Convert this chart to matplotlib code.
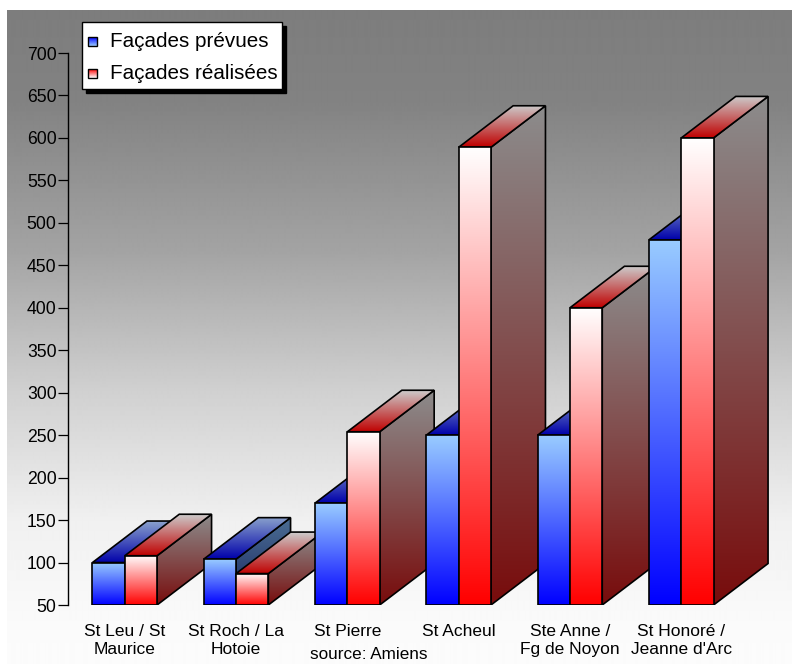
import matplotlib
matplotlib.use('Agg')
import matplotlib.pyplot as plt
from matplotlib.patches import Polygon, Rectangle
from matplotlib.colors import LinearSegmentedColormap
import numpy as np

plt.rcParams['font.family'] = ['Liberation Sans', 'DejaVu Sans']

# Data
quartiers = ['St Leu / St\nMaurice', 'St Roch / La\nHotoie', 'St Pierre',
             'St Acheul', 'Ste Anne /\nFg de Noyon', "St Honoré /\nJeanne d'Arc"]
prevues = [100, 104, 170, 250, 250, 480]
realisees = [108, 87, 254, 589, 400, 600]
series_names = ['Façades prévues', 'Façades réalisées']
y_ticks = list(range(50, 701, 50))

W, H = 792, 664
fig = plt.figure(figsize=(W / 100, H / 100), dpi=100)
fig.patch.set_facecolor('white')

# gray-to-white backdrop
bg = fig.add_axes([0, 0, 1, 1], zorder=0)
bg.set_xlim(0, W)
bg.set_ylim(H, 0)
bg.axis('off')
rows = np.arange(10, H)
shade = np.interp(rows, [10, 100, 250, 390, 520, 620, H], [125, 130, 163, 208, 240, 250, 252]) / 255
bg.imshow(np.repeat(shade[:, None], 2, axis=1), cmap='gray', vmin=0, vmax=1,
          extent=(7, W, H, 10), aspect='auto', interpolation='bilinear')

# main axes, pixel geometry
ax_left, ax_top, ax_bot = 68, 53, 605
ax = fig.add_axes([ax_left / W, 1 - ax_bot / H, (W - ax_left) / W, (ax_bot - ax_top) / H], zorder=1)
ax.patch.set_visible(False)
xmin, xmax = -0.51, 5.995
ymin, ymax = 50, 700
px_x = (W - ax_left) / (xmax - xmin)
px_y = (ax_bot - ax_top) / (ymax - ymin)

bar_w = 32.3 / px_x
dx = 54.5 / px_x
dy = 41.5 / px_y

styles = [
    dict(front=('#99CCFF', '#0000FF'), top=('#8AA2CC', '#0000AA'), side=('#4C6E94', '#16245E')),
    dict(front=('#FFFFFF', '#FF0000'), top=('#CCCCCC', '#C00000'), side=('#8C8C8C', '#780C0C')),
]

z = [2]


def face(verts, c_top, c_bot):
    xs = [v[0] for v in verts]
    ys = [v[1] for v in verts]
    poly = Polygon(verts, closed=True, facecolor='none', edgecolor='black',
                   lw=1.2, joinstyle='miter', zorder=z[0] + 0.5)
    ax.add_patch(poly)
    cmap = LinearSegmentedColormap.from_list('f', [c_bot, c_top])
    im = ax.imshow(np.linspace(0, 1, 256).reshape(-1, 1), cmap=cmap, origin='lower',
                   extent=(min(xs), max(xs), min(ys), max(ys)), aspect='auto',
                   interpolation='bilinear', zorder=z[0])
    im.set_clip_path(poly)
    z[0] += 1


def bar3d(x0, val, st):
    x1 = x0 + bar_w
    face([(x1, ymin), (x1 + dx, ymin + dy), (x1 + dx, val + dy), (x1, val)], *st['side'])
    face([(x0, val), (x1, val), (x1 + dx, val + dy), (x0 + dx, val + dy)], *st['top'])
    face([(x0, ymin), (x1, ymin), (x1, val), (x0, val)], *st['front'])


xs = np.arange(len(quartiers))
for i, c in enumerate(xs):
    bar3d(c - bar_w, prevues[i], styles[0])
    bar3d(c, realisees[i], styles[1])

ax.set_xlim(xmin, xmax)
ax.set_ylim(ymin, ymax)
for s in ['top', 'right', 'bottom']:
    ax.spines[s].set_visible(False)
ax.spines['left'].set_linewidth(1.0)
ax.set_yticks(y_ticks)
ax.tick_params(axis='y', length=7.2, width=0.9, pad=1, labelsize=12.7, direction='out')
ax.set_xticks(xs)
ax.set_xticklabels(quartiers, fontsize=12.5, linespacing=1.25)
ax.tick_params(axis='x', length=0, pad=14)

fig.text(310 / W, 1 - 659 / H, 'source: Amiens', fontsize=12.3, ha='left', va='baseline')

# legend box with drop shadow
lg = fig.add_axes([0, 0, 1, 1], zorder=3)
lg.set_xlim(0, W)
lg.set_ylim(H, 0)
lg.axis('off')
lg.add_patch(Rectangle((86, 26), 200, 67, facecolor='black', edgecolor='black', zorder=1))
lg.add_patch(Rectangle((82, 22), 200, 67, facecolor='white', edgecolor='black', lw=1.0, zorder=2))
for k, (name, st) in enumerate(zip(series_names, styles)):
    yc = 41.5 + k * 32
    sq = Rectangle((88, yc - 4.5), 9, 9, facecolor='none', edgecolor='black', lw=1.0, zorder=4)
    lg.add_patch(sq)
    cmap = LinearSegmentedColormap.from_list('m', [st['front'][1], st['front'][0]])
    lg.imshow(np.linspace(0, 1, 32).reshape(-1, 1), cmap=cmap, origin='upper',
              extent=(88, 97, yc + 4.5, yc - 4.5), aspect='auto', zorder=3,
              interpolation='bilinear')
    lg.text(110, yc, name, fontsize=14.9, ha='left', va='center', zorder=5)
lg.set_xlim(0, W)
lg.set_ylim(H, 0)

fig.savefig('out.png', dpi=100, facecolor='white')
